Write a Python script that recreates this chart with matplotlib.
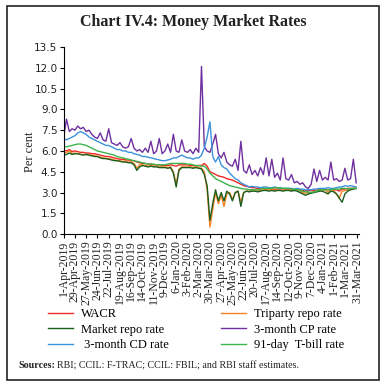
import pandas as pd
import matplotlib
matplotlib.use("Agg")
from matplotlib import pyplot as plt
from matplotlib.patches import Rectangle

# weekly observations, starting 1-Apr-2019
dates = pd.date_range("2019-04-01", periods=105, freq="7D")

wacr = [6.05, 6.0, 6.1, 5.95, 6.0, 5.95, 5.9, 5.9, 5.85, 5.85, 5.8, 5.8,
        5.75, 5.7, 5.65, 5.6, 5.6, 5.55, 5.5, 5.45, 5.4, 5.4, 5.35, 5.35,
        5.3, 5.3, 5.2, 5.15, 5.1, 5.1, 5.05, 5.05, 5.0, 5.0, 5.0, 4.95,
        4.95, 4.95, 5.0, 4.95, 4.9, 5.0, 5.0, 5.0, 5.0, 4.95, 4.95, 4.9,
        4.95, 4.95, 5.1, 4.9, 4.5, 4.4, 4.3, 4.2, 4.15, 4.1, 4.0, 3.95,
        3.9, 3.8, 3.7, 3.6, 3.5, 3.45, 3.4, 3.35, 3.35, 3.3, 3.3, 3.3,
        3.25, 3.25, 3.25, 3.25, 3.25, 3.2, 3.2, 3.25, 3.2, 3.2, 3.2, 3.2,
        3.2, 3.15, 3.1, 3.15, 3.15, 3.15, 3.2, 3.2, 3.2, 3.25, 3.2, 3.25,
        3.2, 3.2, 3.1, 3.25, 3.25, 3.3, 3.3, 3.3, 3.3]

triparty = [5.85, 5.9, 6.0, 5.8, 5.85, 5.8, 5.75, 5.75, 5.75, 5.7, 5.7, 5.65,
            5.6, 5.55, 5.5, 5.45, 5.45, 5.4, 5.35, 5.3, 5.3, 5.25, 5.25, 5.2,
            5.2, 5.1, 4.75, 5.0, 5.0, 4.95, 4.9, 4.95, 4.9, 4.9, 4.85, 4.85,
            4.85, 4.8, 4.85, 4.5, 3.6, 4.7, 4.85, 4.85, 4.85, 4.85, 4.8, 4.85,
            4.8, 4.75, 4.5, 3.2, 0.5, 1.8, 3.0, 2.2, 2.8, 2.0, 2.9, 3.0,
            2.5, 3.0, 3.1, 2.3, 3.0, 3.1, 3.1, 3.15, 3.15, 3.1, 3.15, 3.2,
            3.2, 3.2, 3.2, 3.15, 3.2, 3.2, 3.2, 3.2, 3.2, 3.15, 3.2, 3.15,
            3.1, 3.0, 2.95, 3.0, 3.0, 3.05, 3.1, 3.15, 3.15, 3.2, 3.0, 3.2,
            3.15, 2.9, 2.6, 3.1, 3.15, 3.2, 3.25, 3.3, 3.3]

market_repo = [5.7, 5.75, 5.85, 5.75, 5.8, 5.8, 5.75, 5.7, 5.75, 5.7, 5.65, 5.6,
               5.6, 5.5, 5.45, 5.45, 5.4, 5.35, 5.3, 5.3, 5.25, 5.2, 5.2, 5.15,
               5.15, 5.0, 4.6, 4.85, 4.95, 4.9, 4.85, 4.9, 4.85, 4.85, 4.8, 4.8,
               4.8, 4.75, 4.8, 4.4, 3.4, 4.6, 4.8, 4.8, 4.8, 4.8, 4.75, 4.8,
               4.75, 4.7, 4.3, 3.5, 1.0, 2.2, 3.2, 2.4, 3.0, 2.4, 3.1, 2.9,
               2.4, 3.0, 3.1, 2.0, 3.0, 3.1, 3.05, 3.1, 3.1, 3.05, 3.1, 3.15,
               3.15, 3.1, 3.15, 3.1, 3.15, 3.15, 3.1, 3.15, 3.15, 3.1, 3.15, 3.1,
               3.0, 2.9, 2.8, 2.9, 2.95, 3.0, 3.05, 3.1, 3.1, 3.0, 2.9, 3.1,
               3.05, 2.9, 2.6, 2.3, 2.9, 3.1, 3.2, 3.25, 3.3]

cp_3m = [7.0, 8.3, 7.4, 7.6, 7.5, 7.8, 7.6, 7.7, 7.4, 7.5, 7.2, 7.0,
         6.9, 7.3, 6.8, 6.7, 7.6, 6.6, 6.5, 6.4, 6.6, 6.3, 6.2, 6.3,
         6.9, 6.2, 6.0, 6.1, 5.9, 6.2, 5.9, 6.7, 5.8, 6.0, 6.9, 5.8,
         6.0, 6.5, 5.9, 7.2, 6.0, 5.9, 6.8, 6.0, 5.9, 6.1, 5.8, 6.2,
         5.9, 12.1, 6.3, 6.0, 5.9, 6.5, 7.2, 5.8, 5.5, 5.9, 5.2, 5.0,
         4.9, 5.4, 4.6, 6.7, 4.6, 4.4, 5.0, 4.3, 4.6, 4.2, 4.8, 4.3,
         5.5, 4.2, 5.4, 4.1, 4.4, 3.9, 5.5, 4.0, 3.9, 4.3, 3.7, 3.8,
         3.6, 3.7, 3.4, 3.3, 3.6, 4.7, 3.8, 4.6, 3.9, 4.1, 3.9, 5.2,
         3.9, 4.0, 3.8, 3.9, 4.75, 3.9, 4.0, 5.4, 3.7]

cd_3m = [6.9, 6.8, 6.9, 7.0, 7.1, 7.3, 7.4, 7.3, 7.2, 7.0, 6.9, 6.8,
         6.7, 6.6, 6.5, 6.4, 6.4, 6.3, 6.2, 6.1, 6.1, 6.0, 6.0, 5.9,
         5.9, 5.8, 5.75, 5.7, 5.6, 5.6, 5.55, 5.5, 5.45, 5.4, 5.35, 5.3,
         5.3, 5.35, 5.4, 5.5, 5.5, 5.6, 5.7, 5.6, 5.5, 5.5, 5.4, 5.5,
         5.5, 5.7, 6.2, 7.0, 8.1, 5.6, 5.2, 5.6, 5.0, 4.8, 4.7, 4.4,
         4.2, 4.0, 3.9, 3.7, 3.6, 3.5, 3.4, 3.45, 3.4, 3.4, 3.35, 3.4,
         3.4, 3.35, 3.35, 3.4, 3.35, 3.3, 3.3, 3.3, 3.3, 3.3, 3.25, 3.3,
         3.25, 3.25, 3.2, 3.2, 3.2, 3.25, 3.25, 3.3, 3.3, 3.3, 3.35, 3.3,
         3.3, 3.35, 3.4, 3.4, 3.5, 3.45, 3.5, 3.45, 3.4]

tbill_91 = [6.3, 6.3, 6.35, 6.4, 6.45, 6.5, 6.5, 6.45, 6.4, 6.3, 6.2, 6.1,
            6.0, 5.95, 5.9, 5.85, 5.8, 5.75, 5.7, 5.6, 5.55, 5.5, 5.45, 5.4,
            5.35, 5.3, 5.25, 5.2, 5.15, 5.1, 5.05, 5.05, 5.05, 5.0, 5.0, 5.0,
            5.0, 5.05, 5.1, 5.1, 5.1, 5.1, 5.1, 5.1, 5.05, 5.05, 5.0, 4.95,
            4.95, 4.9, 4.9, 4.7, 4.4, 4.2, 4.0, 3.9, 3.8, 3.7, 3.6, 3.5,
            3.45, 3.4, 3.35, 3.3, 3.25, 3.25, 3.2, 3.2, 3.2, 3.2, 3.25, 3.3,
            3.3, 3.3, 3.3, 3.35, 3.35, 3.35, 3.3, 3.3, 3.3, 3.25, 3.25, 3.2,
            3.15, 3.1, 3.05, 3.05, 3.0, 3.05, 3.1, 3.2, 3.2, 3.2, 3.2, 3.2,
            3.25, 3.25, 3.25, 3.3, 3.3, 3.25, 3.3, 3.3, 3.3]

tick_dates = list(pd.date_range("2019-04-01", periods=26, freq="28D")) + [pd.Timestamp("2021-03-31")]
yticks = [0.0, 1.5, 3.0, 4.5, 6.0, 7.5, 9.0, 10.5, 12.0, 13.5]

serif = "Liberation Serif"
ink = "#222222"

fig = plt.figure(figsize=(3.86, 3.87), dpi=100)
fig.patches.append(Rectangle((0.018, 0.018), 0.964, 0.967, transform=fig.transFigure,
                             fill=False, edgecolor=ink, linewidth=1.2))
fig.text(0.5, 0.943, "Chart IV.4: Money Market Rates", ha="center", va="center",
         fontsize=11.5, fontweight="bold", family=serif, color=ink)

ax = fig.add_axes([0.165, 0.395, 0.765, 0.4836])
l1, = ax.plot(dates, wacr, color="#ee2a24", lw=1.0, label="WACR")
l2, = ax.plot(dates, triparty, color="#f58220", lw=1.0, label="Triparty repo rate")
l3, = ax.plot(dates, market_repo, color="#1b5e20", lw=1.0, label="Market repo rate")
l4, = ax.plot(dates, cp_3m, color="#7030a0", lw=1.0, label="3-month CP rate")
l5, = ax.plot(dates, cd_3m, color="#3d92dc", lw=1.0, label=" 3-month CD rate")
l6, = ax.plot(dates, tbill_91, color="#3cb44b", lw=1.0, label="91-day  T-bill rate")

ax.set_ylim(0, 13.5)
ax.set_yticks(yticks)
ax.set_yticklabels([f"{v:.1f}" for v in yticks], fontsize=7.5, color=ink)
ax.set_xlim(pd.Timestamp("2019-04-01"), pd.Timestamp("2021-04-05"))
ax.set_xticks(tick_dates)
ax.set_xticklabels([f"{d.day}-{d:%b-%Y}" for d in tick_dates], rotation=90,
                   fontsize=8.5, family=serif, color=ink)
ax.tick_params(length=3, width=0.8, pad=1.5)
ax.spines["top"].set_visible(False)
ax.spines["right"].set_visible(False)
ax.set_ylabel("Per cent", family=serif, fontsize=9, color=ink)
ax.yaxis.set_label_coords(-0.095, 0.44)

handles = [l1, l3, l5, l2, l4, l6]
fig.legend(handles, [l.get_label() for l in handles],
           ncol=2, loc="center", bbox_to_anchor=(0.508, 0.148), frameon=False,
           prop={"family": serif, "size": 9}, handlelength=2.0,
           columnspacing=4.2, labelspacing=0.3, handletextpad=0.6)

fig.canvas.draw()
t = fig.text(0.047, 0.055, "Sources:", fontsize=7.2, fontweight="bold", family=serif,
             va="center", color=ink)
bb = t.get_window_extent(fig.canvas.get_renderer())
x2 = bb.x1 / fig.bbox.width
fig.text(x2 + 0.004, 0.055, "RBI; CCIL: F-TRAC; CCIL: FBIL; and RBI staff estimates.",
         fontsize=7.2, family=serif, va="center", color=ink)

plt.savefig("out.png", dpi=100)
